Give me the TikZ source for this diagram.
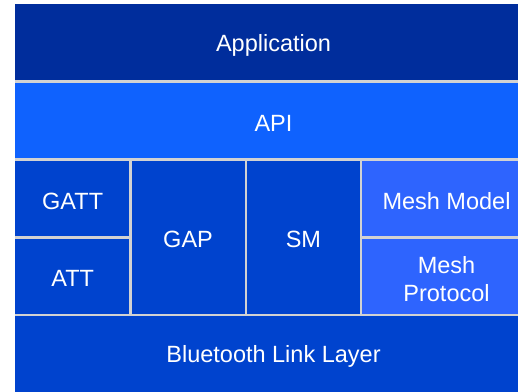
\documentclass[tikz,border=0pt]{standalone}
\usepackage{fontspec}
\setmainfont{Liberation Sans}
\definecolor{appblue}{HTML}{002D9C}
\definecolor{apiblue}{HTML}{0F62FE}
\definecolor{midblue}{HTML}{0043CE}
\definecolor{meshblue}{HTML}{2E64FE}
\definecolor{sepgray}{HTML}{D2D2D2}
\tikzset{
  layer/.style={rectangle, inner sep=0pt, outer sep=0pt, anchor=north west},
  lbl/.style={inner sep=0pt, text=white, align=center, font=\fontsize{23.5}{28}\selectfont},
  sep/.style={draw=sepgray, line width=2.5pt}
}
\begin{document}
\begin{tikzpicture}[x=1pt,y=-1pt]
\path[use as bounding box] (0,0) rectangle (518,391);
\clip (0,0) rectangle (518,391);
\node[layer, fill=appblue, minimum width=517pt, minimum height=77.3pt] (app) at (15,4) {};
\node[layer, fill=apiblue, minimum width=517pt, minimum height=78.2pt] (api) at (15,81.3) {};
\node[layer, fill=midblue, minimum width=115.3pt, minimum height=78pt] (gatt) at (15,159.5) {};
\node[layer, fill=midblue, minimum width=115.3pt, minimum height=77.7pt] (att) at (15,237.5) {};
\node[layer, fill=midblue, minimum width=115.5pt, minimum height=155.7pt] (gap) at (130.3,159.5) {};
\node[layer, fill=midblue, minimum width=115.2pt, minimum height=155.7pt] (sm) at (245.8,159.5) {};
\node[layer, fill=meshblue, minimum width=171pt, minimum height=78pt] (mm) at (361,159.5) {};
\node[layer, fill=meshblue, minimum width=171pt, minimum height=77.7pt] (mp) at (361,237.5) {};
\node[layer, fill=midblue, minimum width=517pt, minimum height=85pt] (bll) at (15,315.2) {};
\draw[sep] (app.south west) -- (app.south east);
\draw[sep] (api.south west) -- (api.south east);
\draw[sep] (gatt.south west) -- (gatt.south east);
\draw[sep] (mm.south west) -- (mm.south east);
\draw[sep] (gatt.north east) -- (att.south east);
\draw[sep] (gap.north east) -- (gap.south east);
\draw[sep] (sm.north east) -- (sm.south east);
\draw[sep] (bll.north west) -- (bll.north east);
\node[lbl] (tapp) at ([yshift=-3pt]app.center) {Application};
\node[lbl] (tapi) at ([yshift=-3pt]api.center) {API};
\node[lbl] (tgatt) at ([yshift=-2.5pt]gatt.center) {GATT};
\node[lbl] (tatt) at ([yshift=-2.5pt]att.center) {ATT};
\node[lbl] (tgap) at ([yshift=-2.5pt]gap.center) {GAP};
\node[lbl] (tsm) at ([yshift=-2.5pt]sm.center) {SM};
\node[lbl] (tmm) at ([yshift=-2.5pt]mm.center) {Mesh Model};
\node[lbl] (tmp) at ([yshift=-2.5pt]mp.center) {Mesh\\Protocol};
\node[lbl] (tbll) at (273.5,356) {Bluetooth Link Layer};
\end{tikzpicture}
\end{document}
